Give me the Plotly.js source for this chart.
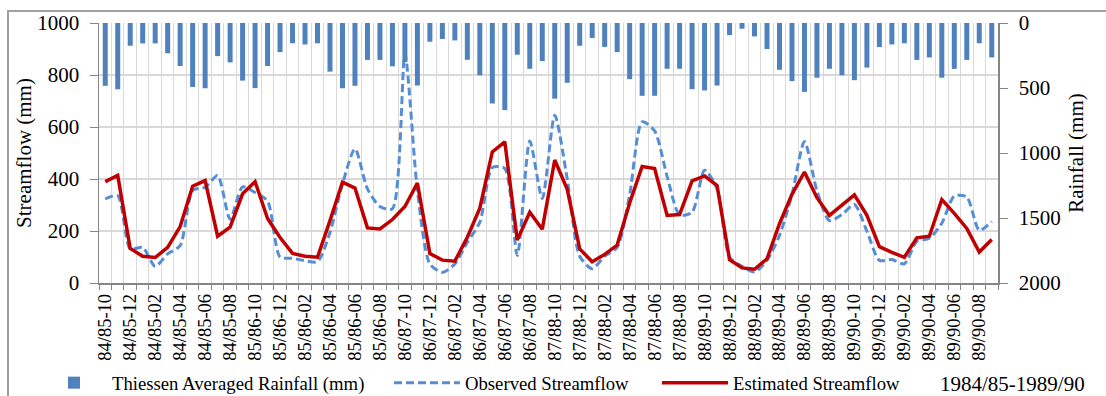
<!DOCTYPE html>
<html>
<head>
<meta charset="utf-8">
<script src="https://cdn.plot.ly/plotly-3.0.1.min.js"></script>
<style>
  html, body { margin: 0; padding: 0; background: #ffffff; }
  #wrap { position: relative; width: 1106px; height: 396px; overflow: hidden; }
  #chart { position: absolute; left: 0; top: 0; width: 1106px; height: 396px; }
  #frame { position: absolute; left: 7px; top: 10px; width: 1200px; height: 500px;
           border: 2px solid #a0a0a0; pointer-events: none; }
</style>
</head>
<body>
<div id="wrap">
  <div id="chart"></div>
  <div id="frame"></div>
</div>
<script>
// ---- data ----
const waterYears = ['84/85', '85/86', '86/87', '87/88', '88/89', '89/90'];
const months = ['10', '11', '12', '01', '02', '03', '04', '05', '06', '07', '08', '09'];
const categories = waterYears.flatMap(y => months.map(m => y + '-' + m));

// Thiessen averaged rainfall (mm), right axis (reversed)
const rainfall = [
  483, 510, 175, 157, 157, 233, 331, 492, 502, 255, 303, 443,
  501, 331, 224, 156, 165, 156, 374, 502, 483, 284, 284, 333,
  300, 481, 144, 123, 134, 283, 402, 619, 670, 244, 352, 293,
  582, 460, 175, 115, 184, 224, 432, 560, 560, 352, 352, 509,
  519, 481, 93, 44, 103, 200, 360, 447, 530, 421, 352, 402,
  440, 343, 185, 165, 156, 284, 265, 421, 353, 284, 156, 265
];

// Observed streamflow (mm)
const observed = [
  323, 336, 131, 137, 64, 112, 144, 356, 368, 413, 245, 370,
  348, 315, 100, 95, 86, 82, 195, 381, 516, 362, 294, 285,
  880, 356, 73, 41, 73, 157, 234, 444, 441, 106, 546, 325,
  645, 400, 103, 55, 103, 137, 340, 620, 585, 410, 262, 272,
  434, 362, 100, 64, 42, 87, 183, 340, 544, 355, 240, 263,
  302, 199, 87, 90, 74, 160, 172, 230, 334, 331, 203, 236
];

// Estimated streamflow (mm)
const estimated = [
  390, 414, 133, 103, 98, 137, 217, 372, 394, 180, 215, 343,
  390, 248, 175, 114, 103, 99, 240, 388, 365, 212, 208, 244,
  294, 384, 113, 88, 84, 176, 288, 504, 543, 165, 272, 207,
  473, 360, 131, 82, 110, 146, 308, 448, 440, 260, 263, 393,
  412, 375, 90, 58, 53, 93, 228, 341, 427, 328, 260, 299,
  339, 260, 140, 118, 99, 174, 180, 321, 268, 210, 119, 167
];

const tickText = categories.map((c, i) => (i % 2 === 0 ? c : ''));
const periodLabel = '1984/85-1989/90';

// ---- chart ----
const serif = 'Liberation Serif, Times New Roman, serif';

const traces = [
  {
    type: 'bar', name: 'Thiessen Averaged Rainfall (mm)',
    x: categories, y: rainfall, yaxis: 'y2',
    marker: { color: '#4F81BD' },
    legend: 'legend'
  },
  {
    type: 'scatter', mode: 'lines', name: 'Observed Streamflow',
    x: categories, y: observed,
    line: { color: '#558ED5', width: 3, dash: '8px,4px', shape: 'spline', smoothing: 0.7 },
    legend: 'legend2'
  },
  {
    type: 'scatter', mode: 'lines', name: 'Estimated Streamflow',
    x: categories, y: estimated,
    line: { color: '#C00000', width: 3.5 },
    legend: 'legend3'
  }
];

const W = 1106, H = 396;
function pxX(px) { return (px - 99) / 899; }
function pxY(py) { return (283 - py) / 260; }
function cX(px) { return px / W; }
function cY(py) { return 1 - py / H; }

const legendBase = {
  orientation: 'h', xanchor: 'left', yanchor: 'middle',
  xref: 'container', yref: 'container',
  bgcolor: 'rgba(0,0,0,0)', borderwidth: 0,
  itemwidth: 66,
  font: { family: serif, size: 18.7, color: '#000' }
};

const layout = {
  width: W, height: H,
  margin: { l: 99, r: 108, t: 23, b: 113, pad: 0, autoexpand: false },
  paper_bgcolor: '#ffffff', plot_bgcolor: '#ffffff',
  bargap: 0.6,
  showlegend: true,
  font: { family: serif, color: '#000' },
  xaxis: {
    type: 'category', automargin: false,
    tickmode: 'array', tickvals: categories, ticktext: tickText,
    tickson: 'boundaries',
    tickangle: -90,
    ticks: 'outside', ticklen: 5, tickcolor: '#868686', tickwidth: 1,
    showgrid: true, gridcolor: '#d9d9d9', gridwidth: 1,
    showline: true, linecolor: '#868686', linewidth: 1.5,
    tickfont: { family: serif, size: 18.5, color: '#000' },
    ticklabelstandoff: 2,
    range: [-0.5, categories.length - 0.5],
    zeroline: false
  },
  yaxis: {
    automargin: false,
    range: [0, 1000], dtick: 200, tick0: 0,
    ticks: 'outside', ticklen: 8, tickcolor: '#868686',
    showgrid: true, gridcolor: '#d9d9d9', gridwidth: 1.5,
    showline: true, linecolor: '#868686', linewidth: 1.5,
    zeroline: false,
    tickfont: { family: serif, size: 21, color: '#000' },
    ticklabelstandoff: 6,
    title: { text: 'Streamflow (mm)', font: { family: serif, size: 21, color: '#000' }, standoff: 0 }
  },
  yaxis2: {
    automargin: false,
    overlaying: 'y', side: 'right',
    range: [2000, 0], dtick: 500, tick0: 0,
    ticks: 'outside', ticklen: 8, tickcolor: '#868686',
    showgrid: false, zeroline: false,
    showline: true, linecolor: '#868686', linewidth: 1.5,
    tickfont: { family: serif, size: 21, color: '#000' },
    ticklabelstandoff: 7,
    title: { text: 'Rainfall (mm)', font: { family: serif, size: 21, color: '#000' }, standoff: 8 }
  },
  legend: Object.assign({}, legendBase, { x: cX(36), y: cY(383) }),
  legend2: Object.assign({}, legendBase, { x: cX(389), y: cY(383) }),
  legend3: Object.assign({}, legendBase, { x: cX(657), y: cY(383) }),
  annotations: [
    {
      text: periodLabel, xref: 'paper', yref: 'paper',
      x: pxX(938), y: pxY(384), xanchor: 'left', yanchor: 'middle',
      showarrow: false, font: { family: serif, size: 21, color: '#000' }
    }
  ]
};

Plotly.newPlot('chart', traces, layout, { staticPlot: true, displayModeBar: false });
</script>
</body>
</html>
